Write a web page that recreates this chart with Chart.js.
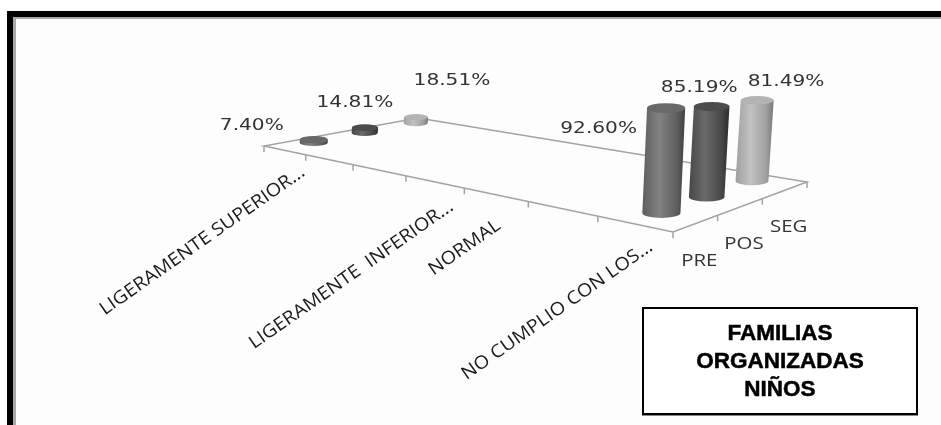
<!DOCTYPE html>
<html>
<head>
<meta charset="utf-8">
<title>Familias organizadas niños</title>
<script src="https://cdn.jsdelivr.net/npm/chart.js@4"></script>
<style>
    html, body { margin: 0; padding: 0; background: #fff; }
    body { width: 941px; height: 425px; position: relative; overflow: hidden; }
    #frame {
        position: absolute; left: 7px; top: 11px; right: -20px; bottom: -20px;
        border: 6px solid #000;
        box-shadow: inset 3px 2px 0 #a8a8a8;
        background: #fdfdfd;
    }
    #myChart { position: absolute; left: 0; top: 0; }
    #note {
        position: absolute; left: 642px; top: 307px; width: 272px; height: 104px;
        border: 2px solid #000;
        box-shadow: 0 1px 0 #888;
        background: #fff;
        font: bold 22.5px/28px "Liberation Sans", sans-serif;
        -webkit-text-stroke: 0.5px #000;
        text-align: center;
        display: flex; align-items: center; justify-content: center;
    }
</style>
</head>
<body>
<div id="frame"></div>
<canvas id="myChart" width="941" height="425"></canvas>
<div id="note"><div>FAMILIAS<br>ORGANIZADAS<br>NIÑOS</div></div>
<script>
const categories = ['LIGERAMENTE SUPERIOR...', '', '', 'LIGERAMENTE  INFERIOR...', 'NORMAL', '', 'NO CUMPLIO CON LOS...'];
const seriesNames = ['PRE', 'POS', 'SEG'];
const pre = [7.40, null, null, null, null, null, 92.60];
const pos = [14.81, null, null, null, null, null, 85.19];
const seg = [18.51, null, null, null, null, null, 81.49];

// floor of the 3d box: left, front, right and back corners
const floor = { a: [264, 146], b: [673, 232], c: [807, 182], d: [418, 118] };

// u runs along the categories, d runs into the depth, both 0..1
function warp(u) {
    return 0.667 * u + 0.333 * u * u;
}
function project(u, d) {
    const w = warp(u);
    const fx = floor.a[0] + (floor.b[0] - floor.a[0]) * w;
    const fy = floor.a[1] + (floor.b[1] - floor.a[1]) * w;
    const bx = floor.d[0] + (floor.c[0] - floor.d[0]) * w;
    const by = floor.d[1] + (floor.c[1] - floor.d[1]) * w;
    return [fx + (bx - fx) * d, fy + (by - fy) * d];
}
function categoryU(scale, i) {
    return (scale.getPixelForValue(i) - scale.left) / scale.width;
}
function seriesD(i) {
    return (i + 0.5) / seriesNames.length;
}
// pixel height of a value, bars shrink towards the far left and the back
function heightOf(v, w, d) {
    return v * (0.3 + 0.84 * w) * (1.1 - 0.2 * d);
}
function leanOf(d) {
    return 0.04 + 0.03 * d;
}

// bar controller that draws each bar as a cylinder standing on the floor
class Cylinder3D extends Chart.BarController {
    draw() {
        const ctx = this.chart.ctx;
        const xs = this.chart.scales.x;
        const ys = this.chart.scales.y;
        const ds = this.getDataset();
        const d = seriesD(this.index);
        ds.data.forEach((v, i) => {
            if (v === null) return;
            const u = categoryU(xs, i);
            const w = warp(u);
            const base = project(u, d);
            const bx = base[0] + 4;
            const by = base[1] - 3;
            const frac = (ys.bottom - ys.getPixelForValue(v)) / ys.height;
            const h = heightOf(frac * 100, w, d);
            const tx = bx + h * leanOf(d);
            const ty = by - h;
            const rx = 20.3 * (0.7 + 0.3 * w) * (1 - 0.2 * d);
            const ry = rx * 0.26;

            const g = ctx.createLinearGradient(bx - rx, 0, tx + rx, 0);
            g.addColorStop(0, ds.shade[0]);
            g.addColorStop(0.4, ds.shade[1]);
            g.addColorStop(0.8, ds.shade[0]);
            g.addColorStop(1, ds.shade[3]);
            ctx.save();
            ctx.fillStyle = g;
            ctx.beginPath();
            ctx.moveTo(tx - rx, ty);
            ctx.lineTo(bx - rx, by);
            ctx.ellipse(bx, by, rx, ry, 0, Math.PI, 0, true);
            ctx.lineTo(tx + rx, ty);
            ctx.closePath();
            ctx.fill();
            ctx.fillStyle = ds.shade[2];
            ctx.beginPath();
            ctx.ellipse(tx, ty, rx, ry, 0, 0, Math.PI * 2);
            ctx.fill();
            ctx.restore();
        });
    }
}
Cylinder3D.id = 'cylinder3d';
Cylinder3D.defaults = Chart.BarController.defaults;
Chart.register(Cylinder3D);

function drawText(ctx, text, x, y, o) {
    ctx.save();
    ctx.translate(x, y);
    if (o.angle) ctx.rotate(o.angle);
    ctx.scale(o.stretch || 1, 1);
    ctx.font = o.font;
    ctx.fillStyle = o.color;
    ctx.textAlign = o.align || 'center';
    ctx.textBaseline = 'middle';
    ctx.fillText(text, 0, 0);
    ctx.restore();
}

// where each category label ends, measured from its floor position
const labelEnd = { 0: [19, 20], 3: [17, 23], 4: [3, 29], 6: [16, 21] };
// value label offsets from the top of each cylinder, by series then by category
const valueShift = [
    { 0: [-61, -14], 6: [-67, 21] },
    { 0: [-9, -25], 6: [-11, -19] },
    { 0: [37, -36], 6: [31, -19] }
];

const floorPlugin = {
    id: 'floorPlugin',
    beforeDatasetsDraw(chart) {
        const ctx = chart.ctx;
        const xs = chart.scales.x;
        ctx.save();
        ctx.strokeStyle = '#a3a3a3';
        ctx.lineWidth = 1.5;
        ctx.beginPath();
        ctx.moveTo(floor.a[0], floor.a[1]);
        ctx.lineTo(floor.b[0], floor.b[1]);
        ctx.lineTo(floor.c[0], floor.c[1]);
        ctx.lineTo(floor.d[0], floor.d[1]);
        ctx.closePath();
        for (let i = 0; i <= categories.length; i++) {
            const p = project(i / categories.length, 0);
            ctx.moveTo(p[0], p[1]);
            ctx.lineTo(p[0], p[1] + 6);
        }
        for (let i = 1; i <= seriesNames.length; i++) {
            const p = project(1, i / seriesNames.length);
            ctx.moveTo(p[0], p[1]);
            ctx.lineTo(p[0], p[1] + 6);
        }
        ctx.stroke();
        ctx.restore();

        categories.forEach((name, i) => {
            if (!name) return;
            const p = project(categoryU(xs, i), 0);
            drawText(ctx, name, p[0] + labelEnd[i][0], p[1] + labelEnd[i][1], {
                font: '18px "Open Sans"', color: '#1a1a1a', align: 'right', angle: -35 * Math.PI / 180, stretch: 1.1
            });
        });
        seriesNames.forEach((name, i) => {
            const p = project(1, seriesD(i));
            drawText(ctx, name, p[0] + 4, p[1] + 37, {
                font: '17px "Open Sans"', color: '#333', stretch: 1.2
            });
        });
    },
    afterDatasetsDraw(chart) {
        const ctx = chart.ctx;
        const xs = chart.scales.x;
        chart.data.datasets.forEach((ds, s) => {
            const d = seriesD(s);
            ds.data.forEach((v, i) => {
                if (v === null) return;
                const u = categoryU(xs, i);
                const base = project(u, d);
                const h = heightOf(v, warp(u), d);
                const off = valueShift[s][i];
                drawText(ctx, v.toFixed(2) + '%', base[0] + 3 + h * 0.05 + off[0], base[1] - 3 - h + off[1], {
                    font: '16.5px "DejaVu Sans"', color: '#333', stretch: 1.22
                });
            });
        });
    }
};

const ctx = document.getElementById('myChart');
new Chart(ctx, {
    type: 'cylinder3d',
    data: {
        labels: categories,
        datasets: [
            { label: seriesNames[0], data: pre, backgroundColor: '#6e6e6e', shade: ['#5e5e5e', '#828282', '#686868', '#404040'] },
            { label: seriesNames[1], data: pos, backgroundColor: '#555555', shade: ['#484848', '#6a6a6a', '#4c4c4c', '#2c2c2c'] },
            { label: seriesNames[2], data: seg, backgroundColor: '#b0b0b0', shade: ['#a0a0a0', '#c2c2c2', '#b4b4b4', '#787878'] }
        ]
    },
    options: {
        responsive: false,
        animation: false,
        events: [],
        grouped: false,
        layout: { padding: 0 },
        plugins: {
            legend: { display: false },
            tooltip: { enabled: false }
        },
        scales: {
            x: { type: 'category', display: false, offset: true },
            y: { type: 'linear', display: false, min: 0, max: 100 }
        }
    },
    plugins: [floorPlugin]
});
</script>
</body>
</html>
